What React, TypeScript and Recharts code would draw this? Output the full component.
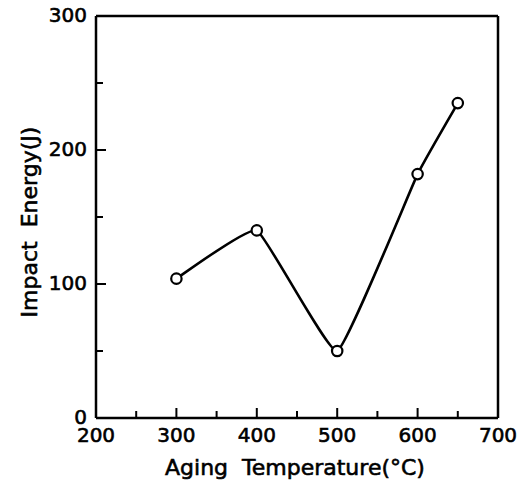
import React from "react";
import { LineChart, Line, XAxis, YAxis, ReferenceLine } from "recharts";

const temperatures = [300, 400, 500, 600, 650];
const impactEnergy = [104, 140, 50, 182, 235];
const xTicks = [200, 250, 300, 350, 400, 450, 500, 550, 600, 650, 700];
const yTicks = [0, 50, 100, 150, 200, 250, 300];
const xTitle = "Aging  Temperature(°C)";
const yTitle = "Impact  Energy(J)";

const data = temperatures.map((t, i) => ({ temp: t, energy: impactEnergy[i] }));

const FONT = "'DejaVu Sans', sans-serif";
const TENSION_FACTOR = 0.055;

// Low-tension cardinal curve through the points
const smoothCurve = (context: any) => {
  let pts: [number, number][] = [];
  return {
    areaStart() {},
    areaEnd() {},
    lineStart() {
      pts = [];
    },
    point(x: number, y: number) {
      pts.push([+x, +y]);
    },
    lineEnd() {
      const n = pts.length;
      if (!n) return;
      context.moveTo(pts[0][0], pts[0][1]);
      for (let i = 0; i < n - 1; i++) {
        const p0 = pts[Math.max(i - 1, 0)];
        const p1 = pts[i];
        const p2 = pts[i + 1];
        const p3 = pts[Math.min(i + 2, n - 1)];
        context.bezierCurveTo(
          p1[0] + (p2[0] - p0[0]) * TENSION_FACTOR,
          p1[1] + (p2[1] - p0[1]) * TENSION_FACTOR,
          p2[0] - (p3[0] - p1[0]) * TENSION_FACTOR,
          p2[1] - (p3[1] - p1[1]) * TENSION_FACTOR,
          p2[0],
          p2[1]
        );
      }
    },
  };
};

const textStyle = { fontFamily: FONT, fill: "#000", stroke: "#000", strokeWidth: 0.6 } as const;

const XTick = (props: any) => {
  const { x, y, payload } = props;
  const major = payload.value % 100 === 0;
  return (
    <g>
      <line x1={x} x2={x} y1={y} y2={y - (major ? 10 : 7)} stroke="#000" strokeWidth={2} />
      {major && (
        <text x={x} y={y + 24} textAnchor="middle" fontSize={20} {...textStyle}>
          {payload.value}
        </text>
      )}
    </g>
  );
};

const YTick = (props: any) => {
  const { x, y, payload } = props;
  const major = payload.value % 100 === 0;
  return (
    <g>
      <line x1={x} x2={x + (major ? 10 : 7)} y1={y} y2={y} stroke="#000" strokeWidth={2} />
      {major && (
        <text x={x - 9} y={y - 1} dy="0.35em" textAnchor="end" fontSize={20} {...textStyle}>
          {payload.value}
        </text>
      )}
    </g>
  );
};

const XTitle = (props: any) => {
  const { viewBox } = props;
  const cx = viewBox.x + viewBox.width / 2 - 2;
  return (
    <text x={cx} y={viewBox.y + 57} textAnchor="middle" fontSize={22} {...textStyle} style={{ whiteSpace: "pre" }}>
      {xTitle}
    </text>
  );
};

const YTitle = (props: any) => {
  const { viewBox } = props;
  const cy = viewBox.y + viewBox.height / 2 + 5;
  const cx = 37;
  return (
    <text
      x={cx}
      y={cy}
      textAnchor="middle"
      fontSize={22}
      {...textStyle}
      transform={`rotate(-90, ${cx}, ${cy})`}
      style={{ whiteSpace: "pre" }}
    >
      {yTitle}
    </text>
  );
};

export default function App() {
  return (
    <div style={{ position: "absolute", left: 0, top: 0, width: 520, height: 487, background: "#fff" }}>
      <LineChart width={520} height={487} data={data} margin={{ top: 16, right: 22, left: 36, bottom: 19 }}>
        <XAxis
          type="number"
          dataKey="temp"
          domain={[200, 700]}
          ticks={xTicks}
          interval={0}
          height={50}
          tickSize={0}
          tickMargin={0}
          tickLine={false}
          tick={<XTick />}
          axisLine={{ stroke: "#000", strokeWidth: 2.5 }}
          label={<XTitle />}
          allowDataOverflow
        />
        <YAxis
          type="number"
          domain={[0, 300]}
          ticks={yTicks}
          interval={0}
          width={60}
          tickSize={0}
          tickMargin={0}
          tickLine={false}
          tick={<YTick />}
          axisLine={{ stroke: "#000", strokeWidth: 2.5 }}
          label={<YTitle />}
          allowDataOverflow
        />
        <ReferenceLine y={300} stroke="#000" strokeWidth={2.5} />
        <ReferenceLine x={700} stroke="#000" strokeWidth={2.5} />
        <Line
          dataKey="energy"
          type={smoothCurve as any}
          stroke="#000"
          strokeWidth={2.6}
          dot={{ r: 5.2, fill: "#fff", stroke: "#000", strokeWidth: 2.2 }}
          isAnimationActive={false}
        />
      </LineChart>
    </div>
  );
}
